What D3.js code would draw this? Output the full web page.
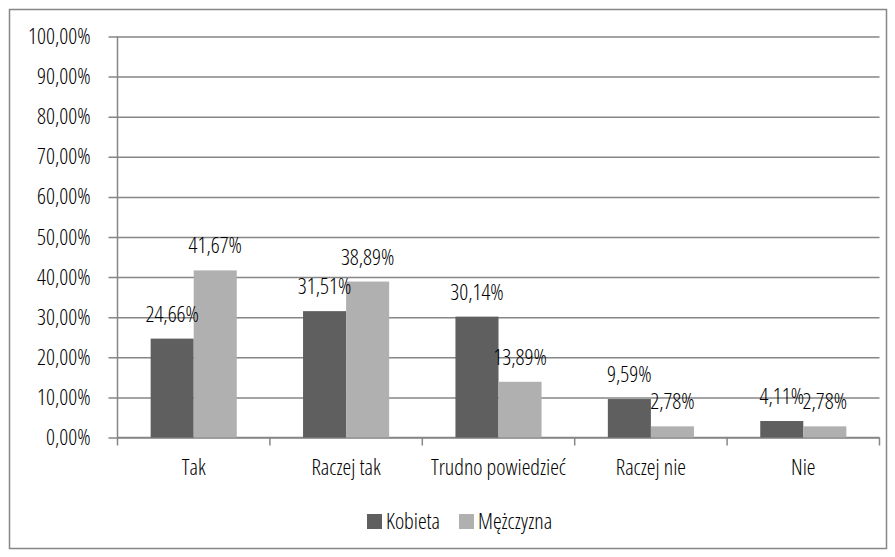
<!DOCTYPE html>
<html>
<head>
  <meta charset="utf-8">
  <script src="https://d3js.org/d3.v7.min.js"></script>
  <style>
    body { margin: 0; background: #fff; }
    text { font-family: 'Open Sans', 'Roboto Condensed', sans-serif; font-stretch: 75%; font-weight: 300; fill: #000; }
  </style>
</head>
<body>
<svg id="chart" width="895" height="557"></svg>
<script>
  // chart data
  const categories = ['Tak', 'Raczej tak', 'Trudno powiedzieć', 'Raczej nie', 'Nie'];
  const seriesNames = ['Kobieta', 'Mężczyzna'];
  const kobieta = [24.66, 31.51, 30.14, 9.59, 4.11];
  const mezczyzna = [41.67, 38.89, 13.89, 2.78, 2.78];
  const yTicks = [0, 10, 20, 30, 40, 50, 60, 70, 80, 90, 100];
  const colors = ['#5f5f5f', '#b0b0b0'];

  const fmt = v => v.toFixed(2).replace('.', ',') + '%';
  const fontSize = 22;

  const svg = d3.select('#chart');

  // outer frame
  svg.append('rect')
    .attr('x', 9.5).attr('y', 9.5)
    .attr('width', 877).attr('height', 539)
    .attr('fill', '#fff')
    .attr('stroke', '#868686')
    .attr('stroke-width', 1.5);

  const plotL = 117.5, plotR = 879.5, plotT = 36.5, plotB = 437.5;

  const x = d3.scaleBand()
    .domain(categories)
    .range([plotL, plotR]);

  const xInner = d3.scaleBand()
    .domain(seriesNames)
    .range([0, x.bandwidth()])
    .paddingOuter(0.77)
    .paddingInner(0);

  const y = d3.scaleLinear()
    .domain([0, 100])
    .range([plotB, plotT]);

  // gridlines + y axis ticks
  const yAxis = svg.append('g')
    .attr('transform', `translate(${plotL},0)`)
    .call(d3.axisLeft(y)
      .tickValues(yTicks)
      .tickSize(-(plotR - plotL))
      .tickFormat(d => fmt(d)));
  yAxis.select('.domain').remove();
  yAxis.selectAll('.tick line')
    .attr('x1', -9)
    .attr('stroke', '#868686')
    .attr('stroke-width', 1.5);
  yAxis.selectAll('.tick text')
    .attr('font-size', fontSize)
    .attr('x', -27);

  // y axis line
  svg.append('line')
    .attr('x1', plotL).attr('x2', plotL)
    .attr('y1', plotT).attr('y2', plotB)
    .attr('stroke', '#868686')
    .attr('stroke-width', 1.5);

  // x axis
  const xAxis = svg.append('g')
    .attr('transform', `translate(0,${plotB})`)
    .call(d3.axisBottom(x).tickSize(0).tickPadding(22));
  xAxis.select('.domain')
    .attr('d', `M${plotL},0H${plotR}`)
    .attr('stroke', '#868686')
    .attr('stroke-width', 1.5);
  xAxis.selectAll('.tick text').attr('font-size', fontSize);

  // category separator ticks
  const sepTicks = categories.map(c => x(c)).concat([plotR]);
  svg.selectAll('.sep')
    .data(sepTicks)
    .enter()
    .append('line')
    .attr('class', 'sep')
    .attr('x1', d => d).attr('x2', d => d)
    .attr('y1', plotB).attr('y2', plotB + 8)
    .attr('stroke', '#868686')
    .attr('stroke-width', 1.5);

  // bars
  const rows = [];
  categories.forEach((c, i) => {
    rows.push({ cat: c, s: seriesNames[0], v: kobieta[i] });
    rows.push({ cat: c, s: seriesNames[1], v: mezczyzna[i] });
  });

  svg.selectAll('.bar')
    .data(rows)
    .enter()
    .append('rect')
    .attr('class', 'bar')
    .attr('x', d => x(d.cat) + xInner(d.s))
    .attr('width', xInner.bandwidth())
    .attr('y', d => y(d.v))
    .attr('height', d => y(0) - y(d.v))
    .attr('fill', d => colors[seriesNames.indexOf(d.s)]);

  // data labels
  svg.selectAll('.lbl')
    .data(rows)
    .enter()
    .append('text')
    .attr('class', 'lbl')
    .attr('x', d => x(d.cat) + xInner(d.s) + xInner.bandwidth() / 2)
    .attr('y', d => y(d.v) - 17)
    .attr('text-anchor', 'middle')
    .attr('font-size', fontSize)
    .text(d => fmt(d.v));

  // legend
  const legend = svg.append('g').attr('transform', 'translate(367,514)');
  const legX = [0, 92];
  seriesNames.forEach((s, i) => {
    legend.append('rect')
      .attr('x', legX[i]).attr('y', 0)
      .attr('width', 15).attr('height', 15)
      .attr('fill', colors[i]);
    legend.append('text')
      .attr('x', legX[i] + 19).attr('y', 15)
      .attr('font-size', fontSize)
      .text(s);
  });
</script>
</body>
</html>
